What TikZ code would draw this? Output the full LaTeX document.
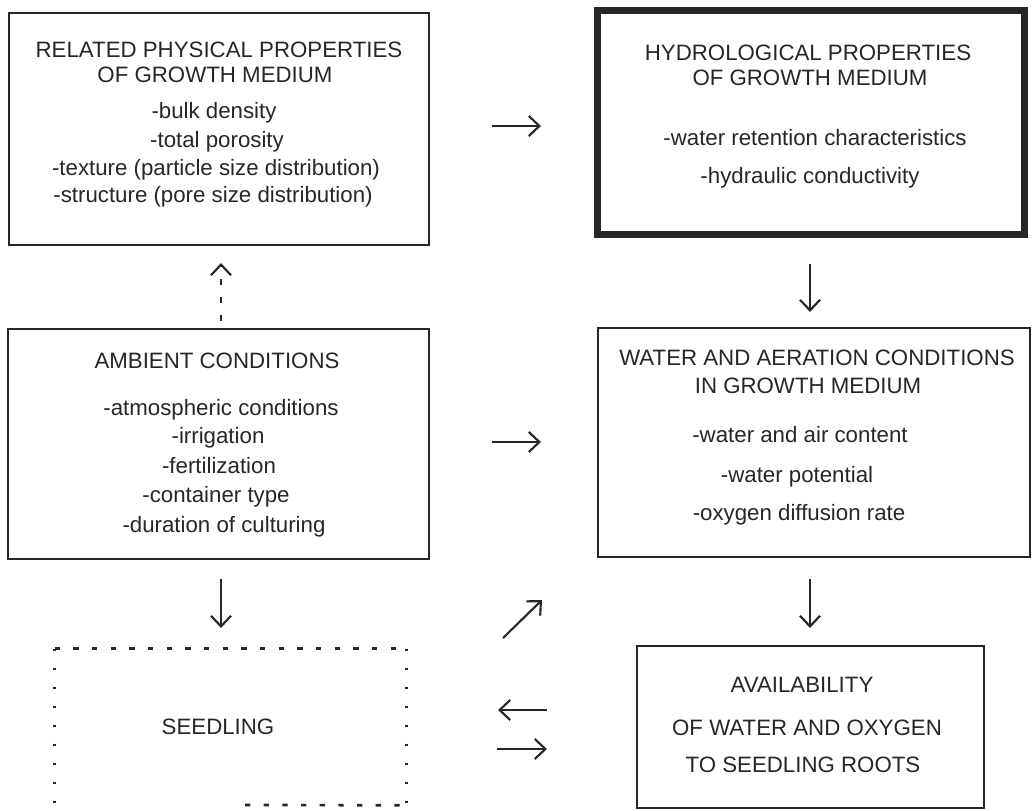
\documentclass[tikz,border=0pt]{standalone}
\usepackage{fontspec}
\setmainfont{Liberation Sans}
\usetikzlibrary{arrows.meta,fit}
\begin{document}
\begin{tikzpicture}[x=0.75pt,y=-0.75pt,
  box/.style={draw=black!85, line width=1.6pt, inner sep=0pt},
  thickbox/.style={draw=black!85, line width=5.25pt, inner sep=0pt},
  ghost/.style={draw=none, inner sep=0pt},
  txt/.style={anchor=base, inner sep=0pt, text=black!85, font=\fontsize{16.7pt}{20pt}\selectfont},
  arr/.style={draw=black!85, line width=1.6pt, -{Straight Barb[length=8pt,width=15pt,line width=1.6pt]}},
  dotarr/.style={arr, dash pattern=on 4.5pt off 9pt},
  dotedge/.style={draw=black!85, line width=2pt, dash pattern=on 2pt off 12.25pt},
  dashedge/.style={draw=black!85, line width=2pt, dash pattern=on 4pt off 10pt},
]
\useasboundingbox (0,0) rectangle (1033,811);

% boxes
\node[box, fit={(9,13)(429,245)}] (A) {};
\node[thickbox, fit={(597.5,10.5)(1024.5,234.5)}] (B) {};
\node[box, fit={(8,329)(429,559)}] (C) {};
\node[box, fit={(598,328)(1030,557)}] (D) {};
\node[ghost, fit={(55,649)(406,805)}] (E) {};
\node[box, fit={(637,646)(984,808)}] (F) {};

% seedling box outline
\draw[dashedge] (E.north west) -- (E.north east);
\draw[dotedge] (E.north west) -- (E.south west);
\draw[dotedge] (E.north east) -- (E.south east);
\coordinate (Ebot) at (245,805);
\draw[dashedge] (Ebot) -- (E.south east);

% texts box A
\node[txt] (a1) at (219,57) {RELATED PHYSICAL PROPERTIES};
\node[txt] (a2) at (215,82) {OF GROWTH MEDIUM};
\node[txt] (a3) at (214,118) {-bulk density};
\node[txt] (a4) at (217,147) {-total porosity};
\node[txt] (a5) at (216,175) {-texture (particle size distribution)};
\node[txt] (a6) at (213,202) {-structure (pore size distribution)};

% texts box B
\node[txt] (b1) at (808,60) {HYDROLOGICAL PROPERTIES};
\node[txt] (b2) at (810,85) {OF GROWTH MEDIUM};
\node[txt] (b3) at (815,145) {-water retention characteristics};
\node[txt] (b4) at (810,183) {-hydraulic conductivity};

% texts box C
\node[txt] (c1) at (217,368) {AMBIENT CONDITIONS};
\node[txt] (c2) at (221,415) {-atmospheric conditions};
\node[txt] (c3) at (218,443) {-irrigation};
\node[txt] (c4) at (219,473) {-fertilization};
\node[txt] (c5) at (216,502) {-container type};
\node[txt] (c6) at (224,532) {-duration of culturing};

% texts box D
\node[txt] (d1) at (817,365) {WATER AND AERATION CONDITIONS};
\node[txt] (d2) at (808,393) {IN GROWTH MEDIUM};
\node[txt] (d3) at (800,442) {-water and air content};
\node[txt] (d4) at (797,482) {-water potential};
\node[txt] (d5) at (799,520) {-oxygen diffusion rate};

% text box E
\node[txt] (e1) at (218,734) {SEEDLING};

% texts box F
\node[txt] (f1) at (802,692) {AVAILABILITY};
\node[txt] (f2) at (807,735) {OF WATER AND OXYGEN};
\node[txt] (f3) at (803,772) {TO SEEDLING ROOTS};

% arrows (free-standing, between the boxes)
\coordinate (r1s) at (492,126);  \coordinate (r1e) at (541,126);
\coordinate (r2s) at (492,442);  \coordinate (r2e) at (541,442);
\coordinate (u1s) at (221,321);  \coordinate (u1e) at (221,263);
\coordinate (d1s) at (810,264);  \coordinate (d1e) at (810,312);
\coordinate (d2s) at (221,579);  \coordinate (d2e) at (221,628);
\coordinate (d3s) at (810,579);  \coordinate (d3e) at (810,628);
\coordinate (gs) at (503,638);   \coordinate (ge) at (542,600);
\coordinate (ls) at (547,710);   \coordinate (le) at (498,710);
\coordinate (rs) at (497,749);   \coordinate (re) at (547,749);

\draw[arr] (r1s) -- (r1e);
\draw[arr] (r2s) -- (r2e);
\draw[dotarr] (u1s) -- (u1e);
\draw[arr] (d1s) -- (d1e);
\draw[arr] (d2s) -- (d2e);
\draw[arr] (d3s) -- (d3e);
\draw[arr] (gs) -- (ge);
\draw[arr] (ls) -- (le);
\draw[arr] (rs) -- (re);
\end{tikzpicture}
\end{document}
